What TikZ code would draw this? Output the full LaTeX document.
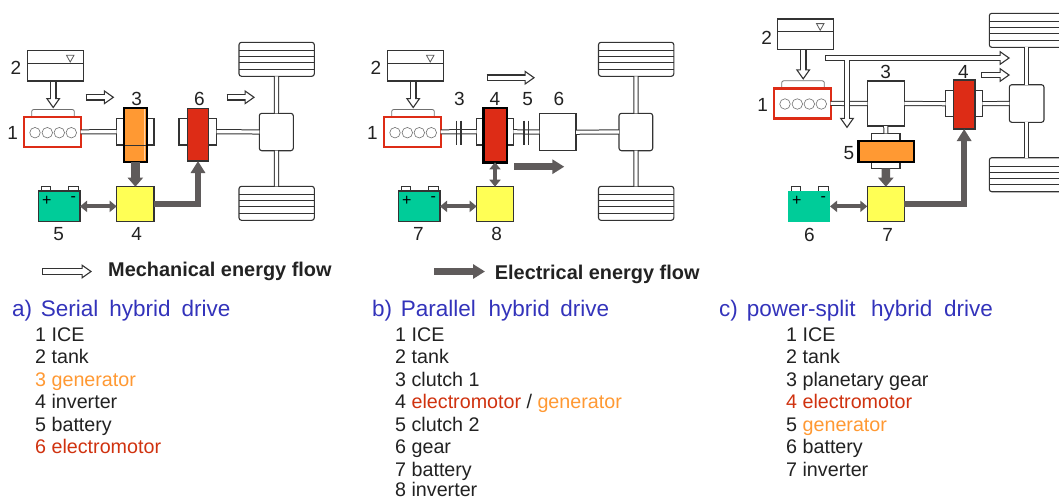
\documentclass[tikz,border=0pt]{standalone}
\usepackage{fontspec}
\setmainfont{Liberation Sans}
\usetikzlibrary{arrows.meta}
\definecolor{ink}{HTML}{333333}
\definecolor{flow}{HTML}{5F5B5B}
\definecolor{enginered}{HTML}{DD2C16}
\definecolor{motorred}{HTML}{DD2C16}
\definecolor{genorange}{HTML}{FF9933}
\definecolor{invyellow}{HTML}{FFFF55}
\definecolor{batteal}{HTML}{00CC99}
\definecolor{titleblue}{HTML}{3333BB}
\definecolor{txt}{HTML}{222222}
\definecolor{redtxt}{HTML}{D0320F}
\tikzset{
  part/.style={inner sep=0pt,outer sep=0pt,draw=ink,line width=1.1pt,fill=white},
  backbox/.style={part},
  rim/.style={part,rounded corners=2.5pt},
  driver/.style={part,line width=2.4pt,draw=black},
  inverter/.style={part,fill=invyellow},
  shaft/.style={draw=ink,line width=1pt,double=white,double distance=3.2pt},
  bar/.style={draw=ink,line width=1.3pt},
  thin/.style={draw=ink,line width=0.8pt},
  hollowouter/.style={draw=ink,line width=6.6pt,-{Triangle[length=10.5pt,width=14.5pt,line width=1.1pt,fill=white]}},
  hollowinner/.style={draw=white,line width=4.2pt,shorten >=9pt},
  darkflow/.style={draw=flow,line width=6.5pt,-{Triangle[length=12pt,width=14pt]}},
  stubflow/.style={draw=flow,line width=8.5pt,-{Triangle[length=9pt,width=15pt]}},
  twoway/.style={draw=flow,line width=4pt,{Triangle[length=7pt,width=11pt]}-{Triangle[length=7pt,width=11pt]}},
  numlab/.style={inner sep=0pt,text=txt,font=\fontsize{19}{21}\selectfont},
  heading/.style={inner sep=0pt,anchor=base west,text=titleblue,font=\fontsize{22.5}{25}\selectfont},
  entry/.style={inner sep=0pt,anchor=base west,text=txt,font=\fontsize{19.7}{22}\selectfont},
  legend/.style={inner sep=0pt,anchor=base west,text=txt,font=\bfseries\fontsize{19.9}{22}\selectfont}
}
\newcommand\bx[6]{%
  \pgfmathsetmacro\bw{#5-#3}\pgfmathsetmacro\bh{#6-#4}%
  \pgfmathsetmacro\bcx{(#3+#5)/2}\pgfmathsetmacro\bcy{(#4+#6)/2}%
  \node[#2,minimum width=\bw pt,minimum height=\bh pt] (#1) at (\bcx,\bcy) {};}
% hollow flow arrow
\newcommand\hollow[2]{%
  \draw[hollowouter] #1 -- #2;
  \draw[hollowinner,shorten <=1pt] #1 -- #2;}
\newcommand\tank[3]{\begin{scope}[shift={(#2,#3)}]
  \bx{#1}{part}{27.7}{50.7}{83.7}{81}
  \draw[thin] (27.7,63.3) -- (83.7,63.3);
  \draw[thin,draw=ink!80] (66.5,55.3) -- (74,55.3) -- (70.2,62) -- cycle;
\end{scope}}
\newcommand\engine[3]{\begin{scope}[shift={(#2,#3)}]
  \draw[thin,draw=ink!70,rounded corners=2pt] (31.7,117) -- (31.7,109.5) -- (74.3,109.5) -- (74.3,117);
  \coordinate (#1cap) at (53.2,108.5);
  \bx{#1}{part,draw=enginered,line width=2.4pt}{24}{117}{80.7}{147}
  \foreach \k/\cx in {a/35,b/47.3,c/59.3,d/71.3}
    \node[circle,draw=ink!70,line width=0.6pt,minimum size=10.5pt,inner sep=0pt,fill=white] (#1\k) at (\cx,132.7) {};
\end{scope}}
\newcommand\battery[4]{\begin{scope}[shift={(#2,#3)}]
  \draw[thin,fill=white] (41.7,191) -- (41.7,186.8) -- (50,186.8) -- (50,191);
  \draw[thin,fill=white] (68.5,191) -- (68.5,186.8) -- (78.3,186.8) -- (78.3,191);
  \bx{#1}{part,fill=batteal,#4}{38.3}{191}{80}{221.7}
  \node[inner sep=0pt,text=black,font=\fontsize{16}{16}\selectfont] (#1p) at (46.7,201) {+};
  \node[inner sep=0pt,text=black,font=\fontsize{16}{16}\selectfont] (#1m) at (73.3,199.5) {-};
\end{scope}}
\newcommand\wheel[3]{\begin{scope}[shift={(#2,#3)}]
  \bx{#1}{rim}{239}{42.3}{314.3}{76.3}
  \foreach \ty in {50.7,56.7,62.5,69.3}
    \draw[draw=ink,line width=0.7pt] (239,\ty) -- (314.3,\ty);
\end{scope}}
\begin{document}
\begin{tikzpicture}[x=1pt,y=-1pt]
\clip (0,0) rectangle (1059,499);
\fill[white] (0,0) rectangle (1059,499);

% ---------- panel a ----------
\tank{atank}{0}{0}
\engine{aeng}{0}{0}
\wheel{awheelt}{0}{0}
\wheel{awheelb}{0}{144}
\bx{adiff}{rim}{259.3}{113.3}{293.3}{150.7}
\bx{agenb}{backbox}{116.7}{118.3}{154}{145}
\bx{amotb}{backbox}{179}{118.3}{216.7}{145}
\draw[shaft] (aeng) -- (agenb);
\draw[shaft] (amotb) -- (adiff);
\draw[shaft] (awheelt) -- (adiff);
\draw[shaft] (awheelb) -- (adiff);
\bx{agen}{driver,fill=genorange}{124}{107.7}{146.7}{161.7}
\fill[genorange!45!white] (143.6,109) rectangle (145.4,160.4);
\draw[thin] (125,145) -- (145.6,145);
\bx{amot}{part,fill=motorred}{187.3}{108.3}{208.7}{161}
\bx{ainv}{inverter}{116.7}{186.7}{154}{221.7}
\battery{abat}{0}{0}{}
\hollow{(atank.south -| aengcap)}{(aengcap)}
\coordinate (afl1a) at (85.7,97.3); \coordinate (afl1b) at (114.3,97.3);
\coordinate (afl2a) at (226.7,97.3); \coordinate (afl2b) at (255,97.3);
\hollow{(afl1a)}{(afl1b)}
\hollow{(afl2a)}{(afl2b)}
\draw[stubflow] (agen) -- (ainv);
\draw[twoway] (abat.east) -- (ainv.west |- abat.east);
\draw[darkflow] (ainv.east) -| (amot.south);
\node[numlab] (al1) at (12.7,133) {1};
\node[numlab] (al2) at (16,68.3) {2};
\node[numlab] (al3) at (136.7,99) {3};
\node[numlab] (al6) at (199.3,99) {6};
\node[numlab] (al5) at (58.7,234) {5};
\node[numlab] (al4) at (136.7,234) {4};

% ---------- panel b ----------
\tank{btank}{360}{0}
\engine{beng}{360}{0}
\wheel{bwheelt}{359.5}{0}
\wheel{bwheelb}{359.5}{144}
\bx{bdiff}{rim}{619}{113.3}{652.7}{150.7}
\bx{bmotb}{backbox}{476.7}{118.3}{513.3}{145}
\bx{bgear}{part}{539.3}{113.7}{576}{150.7}
\draw[shaft] (beng) -- (bmotb);
\draw[shaft] (bmotb) -- (bgear);
\draw[shaft] (bgear) -- (bdiff);
\draw[shaft] (bwheelt) -- (bdiff);
\draw[shaft] (bwheelb) -- (bdiff);
\foreach \cxx in {456.7,461,524,528.3} \draw[bar] (\cxx,120.7) -- (\cxx,145);
\bx{bmot}{driver,fill=motorred}{483.3}{107.7}{506.7}{162.3}
\bx{binv}{inverter}{476.7}{186.7}{513.3}{221.7}
\battery{bbat}{360}{0}{}
\hollow{(btank.south -| bengcap)}{(bengcap)}
\coordinate (bfl1a) at (486.7,77.7); \coordinate (bfl1b) at (535,77.7);
\hollow{(bfl1a)}{(bfl1b)}
\coordinate (bfl2a) at (514.3,166.7); \coordinate (bfl2b) at (564.3,166.7);
\draw[darkflow] (bfl2a) -- (bfl2b);
\draw[twoway] (bmot.south -| binv) -- (binv.north);
\draw[twoway] (bbat.east) -- (binv.west |- bbat.east);
\node[numlab] (bl1) at (372.3,133) {1};
\node[numlab] (bl2) at (376,68.3) {2};
\node[numlab] (bl3) at (459.3,99) {3};
\node[numlab] (bl4) at (495,99) {4};
\node[numlab] (bl5) at (527.7,99) {5};
\node[numlab] (bl6) at (559,99) {6};
\node[numlab] (bl7) at (418.3,234) {7};
\node[numlab] (bl8) at (496.7,234) {8};

% ---------- panel c ----------
\tank{ctank}{750}{-31.7}
\engine{ceng}{750}{-28.7}
\wheel{cwheelt}{750.3}{-29}
\wheel{cwheelb}{750.3}{115.4}
\bx{cdiff}{rim}{1009.3}{84.7}{1044}{122.3}
\bx{cplan}{part}{867.3}{81}{904.3}{126}
\bx{cmotb}{backbox}{945.7}{90.7}{982.3}{116.7}
\draw[shaft] (ceng) -- (cplan);
\draw[shaft] (cplan) -- (cmotb);
\draw[shaft] (cmotb) -- (cdiff);
\draw[shaft] (cwheelt.south -| cdiff) -- (cdiff);
\draw[shaft] (cwheelb.north -| cdiff) -- (cdiff);
\bx{cgenbt}{backbox}{871.7}{133.3}{900}{141}
\bx{cgenbb}{backbox}{871.7}{161}{900}{168.3}
\draw[shaft] (cplan) -- (cgenbt);
\bx{cgen}{driver,fill=genorange}{858.3}{140.7}{914}{161.7}
\bx{cmot}{part,fill=motorred}{953.3}{80}{975}{129}
\bx{cinv}{inverter}{867.3}{186.7}{904.3}{221.7}
\battery{cbat}{750}{0}{draw=none}
\hollow{(ctank.south -| cengcap)}{(cengcap)}
\coordinate (cfl0) at (825,58); \coordinate (cflj) at (847,58);
\coordinate (cfl1) at (1010,58); \coordinate (cfl2) at (847,128.3);
\coordinate (cfl3a) at (981.3,75); \coordinate (cfl3b) at (1010,75);
\hollow{(cfl3a)}{(cfl3b)}
\draw[hollowouter] (cfl0) -- (cfl1);
\draw[hollowouter] (cflj) -- (cfl2);
\draw[hollowinner,shorten <=1pt] (cfl0) -- (cfl1);
\draw[hollowinner] (cflj) -- (cfl2);
\draw[stubflow] (cgenbb) -- (cinv);
\draw[twoway] (cbat.east) -- (cinv.west |- cbat.east);
\draw[darkflow] (cinv.east) -| (cmot.south);
\node[numlab] (cl1) at (762.7,105) {1};
\node[numlab] (cl2) at (766.7,38.3) {2};
\node[numlab] (cl3) at (885.7,72.3) {3};
\node[numlab] (cl4) at (963.3,72.3) {4};
\node[numlab] (cl5) at (849,152.7) {5};
\node[numlab] (cl6) at (809.3,235) {6};
\node[numlab] (cl7) at (887.7,235) {7};

% ---------- legend ----------
\coordinate (lg1a) at (42,271.5); \coordinate (lg1b) at (92,271.5);
\hollow{(lg1a)}{(lg1b)}
\node[legend] (lgm) at (108,276.5) {Mechanical energy flow};
\coordinate (lg2a) at (434,271.5); \coordinate (lg2b) at (485,271.5);
\draw[darkflow] (lg2a) -- (lg2b);
\node[legend] (lge) at (494.7,279.5) {Electrical energy flow};

% ---------- captions ----------
\node[heading] (ta) at (12,316.7) {a)\hspace{8.7pt}Serial\hspace{11pt}hybrid\hspace{11pt}drive};
\node[entry] (a1) at (35,341.2) {1 ICE};
\node[entry] (a2) at (35,363.5) {2 tank};
\node[entry,text=genorange] (a3) at (35,386) {3 generator};
\node[entry] (a4) at (35,408.7) {4 inverter};
\node[entry] (a5) at (35,431) {5 battery};
\node[entry,text=redtxt] (a6) at (35,453.7) {6 electromotor};

\node[heading] (tb) at (372,316.7) {b)\hspace{8.7pt}Parallel\hspace{12.6pt}hybrid\hspace{10.7pt}drive};
\node[entry] (b1) at (395,341.2) {1 ICE};
\node[entry] (b2) at (395,363.5) {2 tank};
\node[entry] (b3) at (395,386) {3 clutch 1};
\node[entry] (b4) at (395,408.7) {4 \textcolor{redtxt}{electromotor} / \textcolor{genorange}{generator}};
\node[entry] (b5) at (395,431) {5 clutch 2};
\node[entry] (b6) at (395,453.7) {6 gear};
\node[entry] (b7) at (395,476) {7 battery};
\node[entry] (b8) at (395,496) {8 inverter};

\node[heading] (tc) at (719,316.7) {c)\hspace{9pt}power-split\hspace{15.5pt}hybrid\hspace{11.6pt}drive};
\node[entry] (c1) at (786,341.2) {1 ICE};
\node[entry] (c2) at (786,363.5) {2 tank};
\node[entry] (c3) at (786,386) {3 planetary gear};
\node[entry,text=redtxt] (c4) at (786,408.7) {4 electromotor};
\node[entry] (c5) at (786,431) {5 \textcolor{genorange}{generator}};
\node[entry] (c6) at (786,453.7) {6 battery};
\node[entry] (c7) at (786,476) {7 inverter};
\end{tikzpicture}
\end{document}
